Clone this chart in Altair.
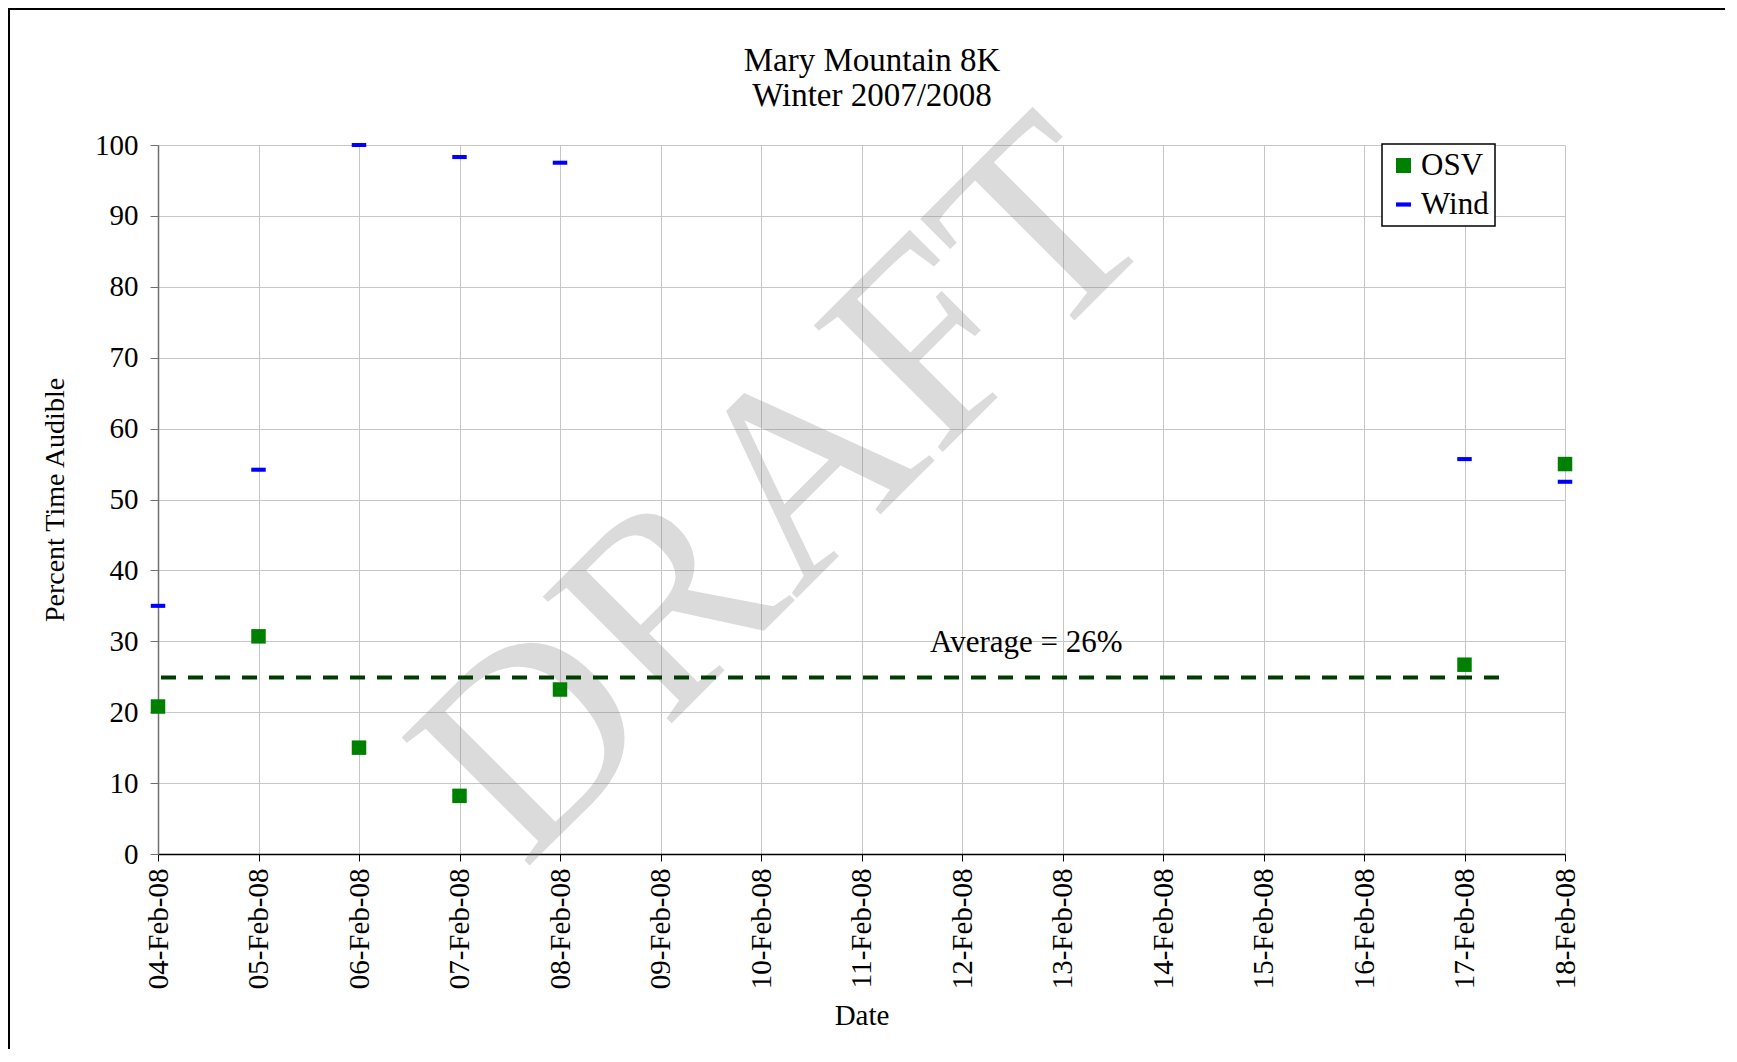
import altair as alt
import pandas as pd

FONT = "Liberation Serif"

# ---- data ----
dates = ["04-Feb-08", "05-Feb-08", "06-Feb-08", "07-Feb-08", "08-Feb-08", "17-Feb-08", "18-Feb-08"]
osv = [20.8, 30.7, 15.0, 8.2, 23.2, 26.7, 55.0]
wind = [35.0, 54.2, 100.0, 98.3, 97.5, 55.7, 52.5]

tick_labels = ["04-Feb-08", "05-Feb-08", "06-Feb-08", "07-Feb-08", "08-Feb-08",
               "09-Feb-08", "10-Feb-08", "11-Feb-08", "12-Feb-08", "13-Feb-08",
               "14-Feb-08", "15-Feb-08", "16-Feb-08", "17-Feb-08", "18-Feb-08"]
y_ticks = [0, 10, 20, 30, 40, 50, 60, 70, 80, 90, 100]

title_lines = ["Mary Mountain 8K", "Winter 2007/2008"]

avg_value = 24.9
avg_start_day = 4.03
avg_end_day = 17.36
avg_label = "Average = 26%"
avg_label_day = 12.64
avg_label_y = 29.7

watermark = "DRAFT"
watermark_day = 10.24
watermark_y = 51.0

# ---- tables ----
day_of = lambda s: int(s[:2])
rows = []
for d, o, w in zip(dates, osv, wind):
    rows.append({"day": day_of(d), "value": o, "series": "OSV"})
    rows.append({"day": day_of(d), "value": w, "series": "Wind"})
points_df = pd.DataFrame(rows)

first_day = day_of(tick_labels[0])
label_expr = "[" + ",".join("'%s'" % t for t in tick_labels) + "][datum.value - %d]" % first_day

x_scale = alt.Scale(domain=[day_of(tick_labels[0]), day_of(tick_labels[-1])], nice=False, zero=False)
y_scale = alt.Scale(domain=[0, 100], nice=False)

x_axis = alt.Axis(values=list(range(day_of(tick_labels[0]), day_of(tick_labels[-1]) + 1)),
                  labelExpr=label_expr, labelAngle=270, labelAlign="right", labelBaseline="middle",
                  labelPadding=7, tickSize=7, tickColor="black", domainColor="black", domainWidth=1.5,
                  grid=True, gridColor="#c6c6c6", gridWidth=1, title="Date", titlePadding=13,
                  labelFont=FONT, labelFontSize=29, titleFont=FONT, titleFontSize=29,
                  titleFontWeight="normal", labelColor="black", titleColor="black")
y_axis = alt.Axis(values=y_ticks, tickSize=8, tickColor="#707070", domainColor="#707070", domainWidth=1.5,
                  grid=True, gridColor="#c6c6c6", gridWidth=1, title="Percent Time Audible",
                  labelPadding=12, titlePadding=25,
                  labelFont=FONT, labelFontSize=29, titleFont=FONT, titleFontSize=28,
                  titleFontWeight="normal", labelColor="black", titleColor="black")

base_x = alt.X("day:Q", scale=x_scale, axis=x_axis)
base_y = alt.Y("value:Q", scale=y_scale, axis=y_axis)

wm = alt.Chart(pd.DataFrame({"day": [watermark_day], "value": [watermark_y], "t": [watermark]})).mark_text(
    font=FONT, fontSize=276, angle=315, align="center", baseline="middle",
    color="#808080", opacity=0.28
).encode(x=alt.X("day:Q", scale=x_scale), y=alt.Y("value:Q", scale=y_scale), text="t:N")

avg_line = alt.Chart(pd.DataFrame({"day": [avg_start_day], "day2": [avg_end_day], "value": [avg_value]})).mark_rule(
    color="#003d00", strokeWidth=4, strokeDash=[15, 12]
).encode(x=base_x, x2="day2:Q", y=base_y)

avg_text = alt.Chart(pd.DataFrame({"day": [avg_label_day], "value": [avg_label_y], "t": [avg_label]})).mark_text(
    font=FONT, fontSize=31, align="center", baseline="middle", color="black"
).encode(x=alt.X("day:Q", scale=x_scale), y=alt.Y("value:Q", scale=y_scale), text="t:N")

legend = alt.Legend(title=None, orient="none", legendX=1224, legendY=-1,
                    fillColor="white", strokeColor="black", padding=6,
                    labelFont=FONT, labelFontSize=31, labelColor="black",
                    symbolSize=225, symbolStrokeWidth=0, rowPadding=7,
                    labelOffset=2)

dash_path = "M-1,-0.28H1V0.28H-1Z"
pts = alt.Chart(points_df).mark_point(filled=True, opacity=1, size=210, strokeWidth=0).encode(
    x=base_x, y=base_y,
    color=alt.Color("series:N", scale=alt.Scale(domain=["OSV", "Wind"], range=["#008000", "#0000ff"]),
                    legend=legend),
    shape=alt.Shape("series:N", scale=alt.Scale(domain=["OSV", "Wind"], range=["square", dash_path]),
                    legend=legend),
)

one = pd.DataFrame({"k": [0]})
title1 = alt.Chart(one).mark_text(text=title_lines[0], font=FONT, fontSize=33, align="center",
                                  baseline="alphabetic", color="black").encode(
    x=alt.value(714), y=alt.value(-74))
title2 = alt.Chart(one).mark_text(text=title_lines[1], font=FONT, fontSize=33, align="center",
                                  baseline="alphabetic", color="black").encode(
    x=alt.value(714), y=alt.value(-39))

border_top = alt.Chart(one).mark_rule(color="black", strokeWidth=2).encode(
    x=alt.value(-150), x2=alt.value(1580), y=alt.value(-136))
border_left = alt.Chart(one).mark_rule(color="black", strokeWidth=2).encode(
    x=alt.value(-149), y=alt.value(-137), y2=alt.value(915))

chart = alt.layer(wm, avg_line, avg_text, pts, title1, title2, border_top, border_left).properties(
    width=1407, height=709,
    autosize=alt.AutoSizeParams(type="none"),
    padding={"left": 150, "top": 137, "right": 160, "bottom": 195},
).configure_view(strokeWidth=0).configure_legend(strokeWidth=1.5)

chart.save("out.html", embed_options={"renderer": "svg", "actions": False})
